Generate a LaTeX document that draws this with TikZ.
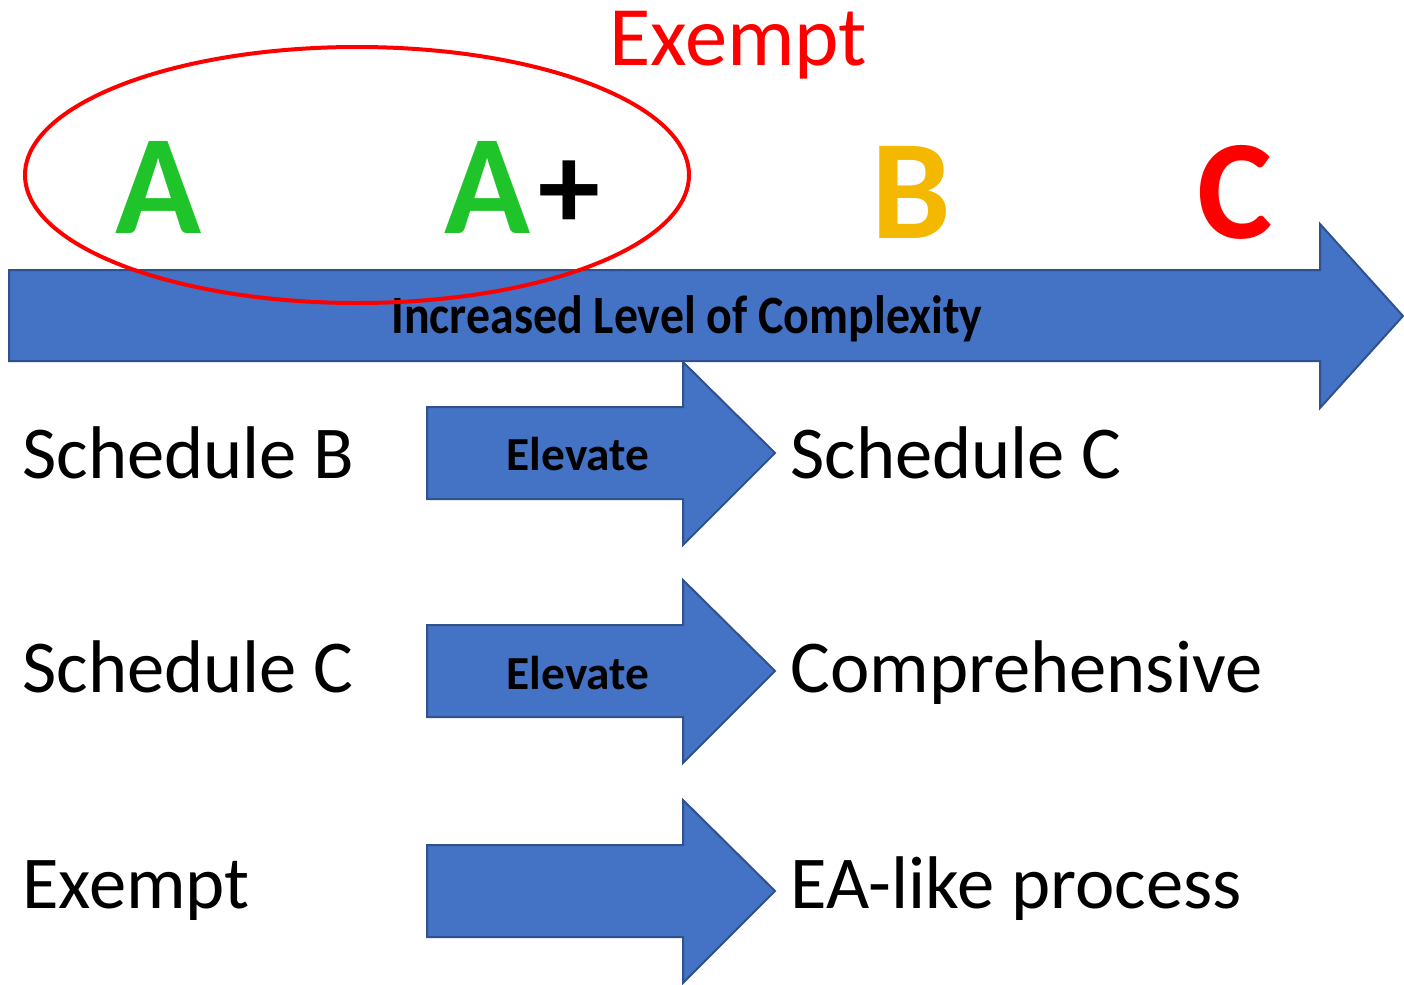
\documentclass[tikz,border=0pt]{standalone}
\usepackage{fontspec}
\setmainfont{Carlito}
\definecolor{arrowblue}{HTML}{4472C4}
\definecolor{arrowedge}{HTML}{2F528F}
\definecolor{gradeA}{HTML}{1EC42A}
\definecolor{gradeB}{HTML}{F5B800}
\definecolor{gradeC}{HTML}{FF0000}
\tikzset{
  bluearrow/.style={fill=arrowblue,draw=arrowedge,line width=1pt,line join=miter},
  label/.style={anchor=base west,inner sep=0pt,font=\fontsize{37.3}{38}\selectfont},
  elev/.style={inner sep=0pt,anchor=base,font=\bfseries\fontsize{23.7}{24}\selectfont},
  grade/.style={inner sep=0pt,anchor=base west,font=\bfseries\fontsize{71}{72}\selectfont},
}
\begin{document}
\begin{tikzpicture}[x=0.5pt,y=-0.5pt]
\useasboundingbox (0,0) rectangle (1404,985);
% big arrow
\draw[bluearrow] (9,270) -- (1320,270) -- (1320,224) -- (1403,316) -- (1320,408) -- (1320,361) -- (9,361) -- cycle;
\node[inner sep=0pt,anchor=base,font=\bfseries\fontsize{27}{28}\selectfont] (complex) at (687,333) {\scalebox{0.887}[1]{Increased Level of Complexity}};
% small arrows
\foreach \y/\n in {453/e1,671/e2,891/e3}{
  \draw[bluearrow] (427,\y-46) -- (683,\y-46) -- (683,\y-91) -- (775,\y) -- (683,\y+92) -- (683,\y+46) -- (427,\y+46) -- cycle;
  \coordinate (\n) at (555,\y);
}
\node[elev] (el1) at (578,470) {Elevate};
\node[elev] (el2) at (578,689) {Elevate};
% labels
\node[label] (sb) at (22,478) {Schedule B};
\node[label] (sc1) at (790,478) {Schedule C};
\node[label] (sc2) at (22,692) {Schedule C};
\node[label] (comp) at (790,692) {Comprehensive};
\node[label] (ex) at (22,908) {Exempt};
\node[label] (ea) at (790,908) {EA-like process};
% grades
\node[grade,text=gradeA] (ga) at (115,233) {A};
\node[grade,text=gradeA] (gap) at (444,233) {A};
\node[inner sep=0pt,anchor=center,font=\bfseries\fontsize{62}{62}\selectfont] (plus) at (569,195) {+};
\node[grade,text=gradeB] (gb) at (871,238) {B};
\node[grade,text=gradeC] (gc) at (1197,238) {C};
% ellipse
\draw[red,line width=2pt] (357,175) ellipse [x radius=332,y radius=128];
\node[label,text=red,font=\fontsize{42.3}{43}\selectfont] (exempt) at (609,65) {Exempt};
\end{tikzpicture}
\end{document}
